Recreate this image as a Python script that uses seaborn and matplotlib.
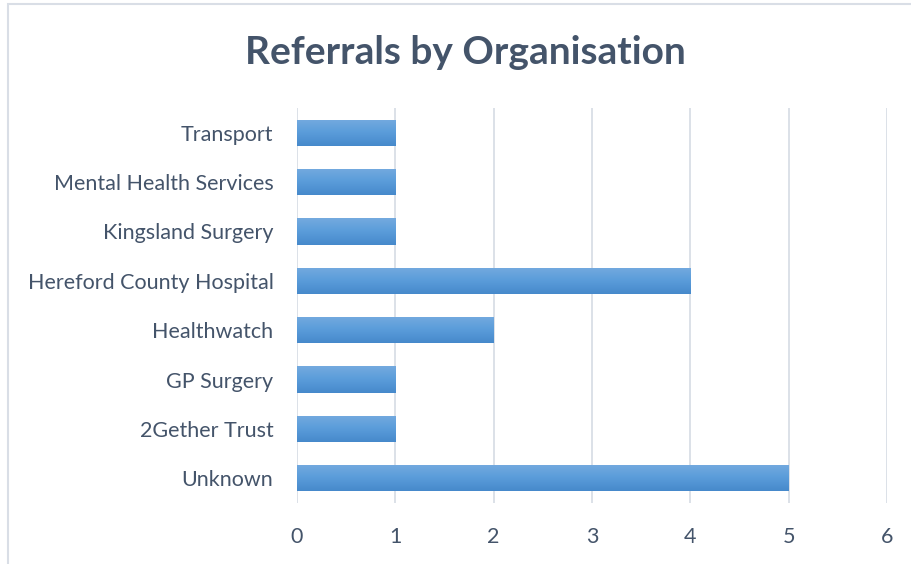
import matplotlib
matplotlib.use("Agg")
import matplotlib.pyplot as plt
import matplotlib.patches as mpatches
import numpy as np
import pandas as pd
import seaborn as sns
from matplotlib.colors import LinearSegmentedColormap

categories = ["Transport", "Mental Health Services", "Kingsland Surgery",
              "Hereford County Hospital", "Healthwatch", "GP Surgery",
              "2Gether Trust", "Unknown"]
values = [1, 1, 1, 4, 2, 1, 1, 5]
x_ticks = [0, 1, 2, 3, 4, 5, 6]

df = pd.DataFrame({"Organisation": categories, "Referrals": values})

sns.set_theme(style="white")
plt.rcParams["font.family"] = ["Lato", "DejaVu Sans"]

text_col = "#44546A"
fig = plt.figure(figsize=(9.12, 5.64), dpi=100)
ax = fig.add_axes([297/912, 1-503/564, 590/912, 395/564])

sns.barplot(data=df, y="Organisation", x="Referrals", orient="h",
            color="#5B9BD5", width=0.53, ax=ax, order=categories)

cmap = LinearSegmentedColormap.from_list("g", ["#74AADF", "#5A9CDA", "#4689CB"])
grad = np.linspace(0, 1, 256).reshape(-1, 1)
for p in list(ax.patches):
    x0, y0 = p.get_x(), p.get_y()
    w, h = p.get_width(), p.get_height()
    p.set_facecolor("none")
    p.set_edgecolor("none")
    im = ax.imshow(grad, cmap=cmap, aspect="auto",
                   extent=[x0, x0 + w, y0 + h, y0], zorder=3)
    im.set_extent([x0, x0 + w, y0 + h, y0])
    im.set_clip_path(p)

ax.set_xlim(0, 6)
ax.set_ylim(len(categories) - 0.5, -0.5)
ax.set_xticks(x_ticks)
ax.set_xticklabels([str(t) for t in x_ticks])
ax.xaxis.grid(True, color="#D9DEE6", linewidth=1.3)
ax.set_axisbelow(True)
for s in ax.spines.values():
    s.set_visible(False)
ax.set_xlabel("")
ax.set_ylabel("")
ax.tick_params(axis="x", colors=text_col, labelsize=15.5, length=0, pad=17)
ax.tick_params(axis="y", colors=text_col, labelsize=15.5, length=0, pad=17)
for t in ax.get_xticklabels() + ax.get_yticklabels():
    t.set_color(text_col)

fig.text(465/912, 1-52/564, "Referrals by Organisation", ha="center", va="center",
         fontsize=28, fontweight="bold", color=text_col)

border = mpatches.Rectangle((8/912, -0.02), 1.0, 1 - 4/564 + 0.02, transform=fig.transFigure,
                            fill=False, edgecolor="#D9DEE6", linewidth=1.5)
fig.patches.append(border)

fig.savefig("out.png", dpi=100)
